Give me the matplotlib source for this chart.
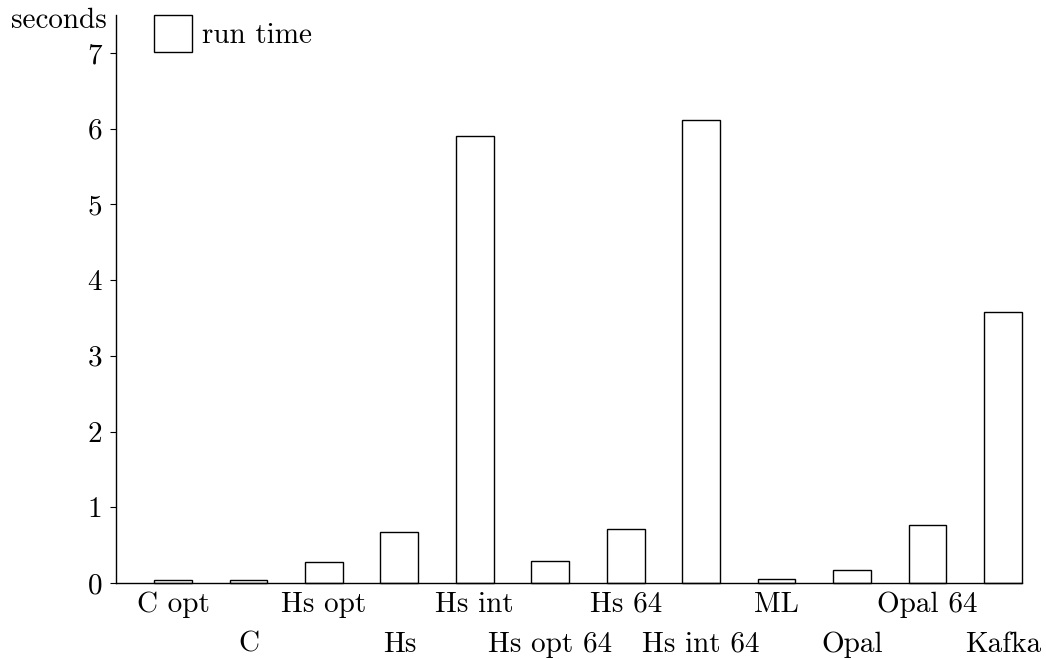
import numpy as np
import matplotlib
matplotlib.use("Agg")
import matplotlib.pyplot as plt

plt.rcParams['font.family'] = 'serif'
plt.rcParams['font.serif'] = ['cmr10', 'DejaVu Serif']
plt.rcParams['axes.formatter.use_mathtext'] = True

# run time per program (seconds)
names = ["C opt", "C", "Hs opt", "Hs", "Hs int", "Hs opt 64",
         "Hs 64", "Hs int 64", "ML", "Opal", "Opal 64", "Kafka"]
run_time = [0.035, 0.045, 0.28, 0.68, 5.90, 0.29,
            0.71, 6.11, 0.05, 0.17, 0.76, 3.58]
yticks = [0, 1, 2, 3, 4, 5, 6, 7]

FS = 21

fig = plt.figure(figsize=(10.46, 6.59), dpi=100)
ax = fig.add_axes([0.1109, 0.1153, 0.866, 0.862])

x = np.arange(len(names))
bars = ax.bar(x, run_time, width=0.5, color="white", edgecolor="black",
              linewidth=1.0, label="run time")
for b in bars:
    b.set_clip_on(False)

ax.set_xlim(-0.755, len(names) - 0.75)
ax.set_ylim(0, 7.5)

# staggered labels: even ones on the first row, odd ones on a second row
ax.set_xticks(x[::2])
ax.set_xticklabels(names[::2], fontsize=FS)
ax.set_xticks(x[1::2], minor=True)
ax.set_xticklabels(names[1::2], minor=True, fontsize=FS)
ax.tick_params(axis="x", which="major", length=0, pad=6)
ax.tick_params(axis="x", which="minor", length=0, pad=35)

ax.set_yticks(yticks)
ax.set_yticklabels([str(v) for v in yticks], fontsize=FS)
ax.tick_params(axis="y", direction="out", length=4, width=0.8, pad=6)

for s in ["top", "right"]:
    ax.spines[s].set_visible(False)
ax.spines["left"].set_linewidth(1.0)
ax.spines["bottom"].set_linewidth(1.0)

ax.text(-0.01, 0.99, "seconds", transform=ax.transAxes, ha="right",
        va="center", fontsize=FS)

ax.legend(loc="upper left", bbox_to_anchor=(0.042, 1.0), frameon=False,
          fontsize=FS, handlelength=1.3, handleheight=1.6,
          handletextpad=0.35, borderpad=0, borderaxespad=0)

plt.savefig("out.png", dpi=100)
plt.close()
